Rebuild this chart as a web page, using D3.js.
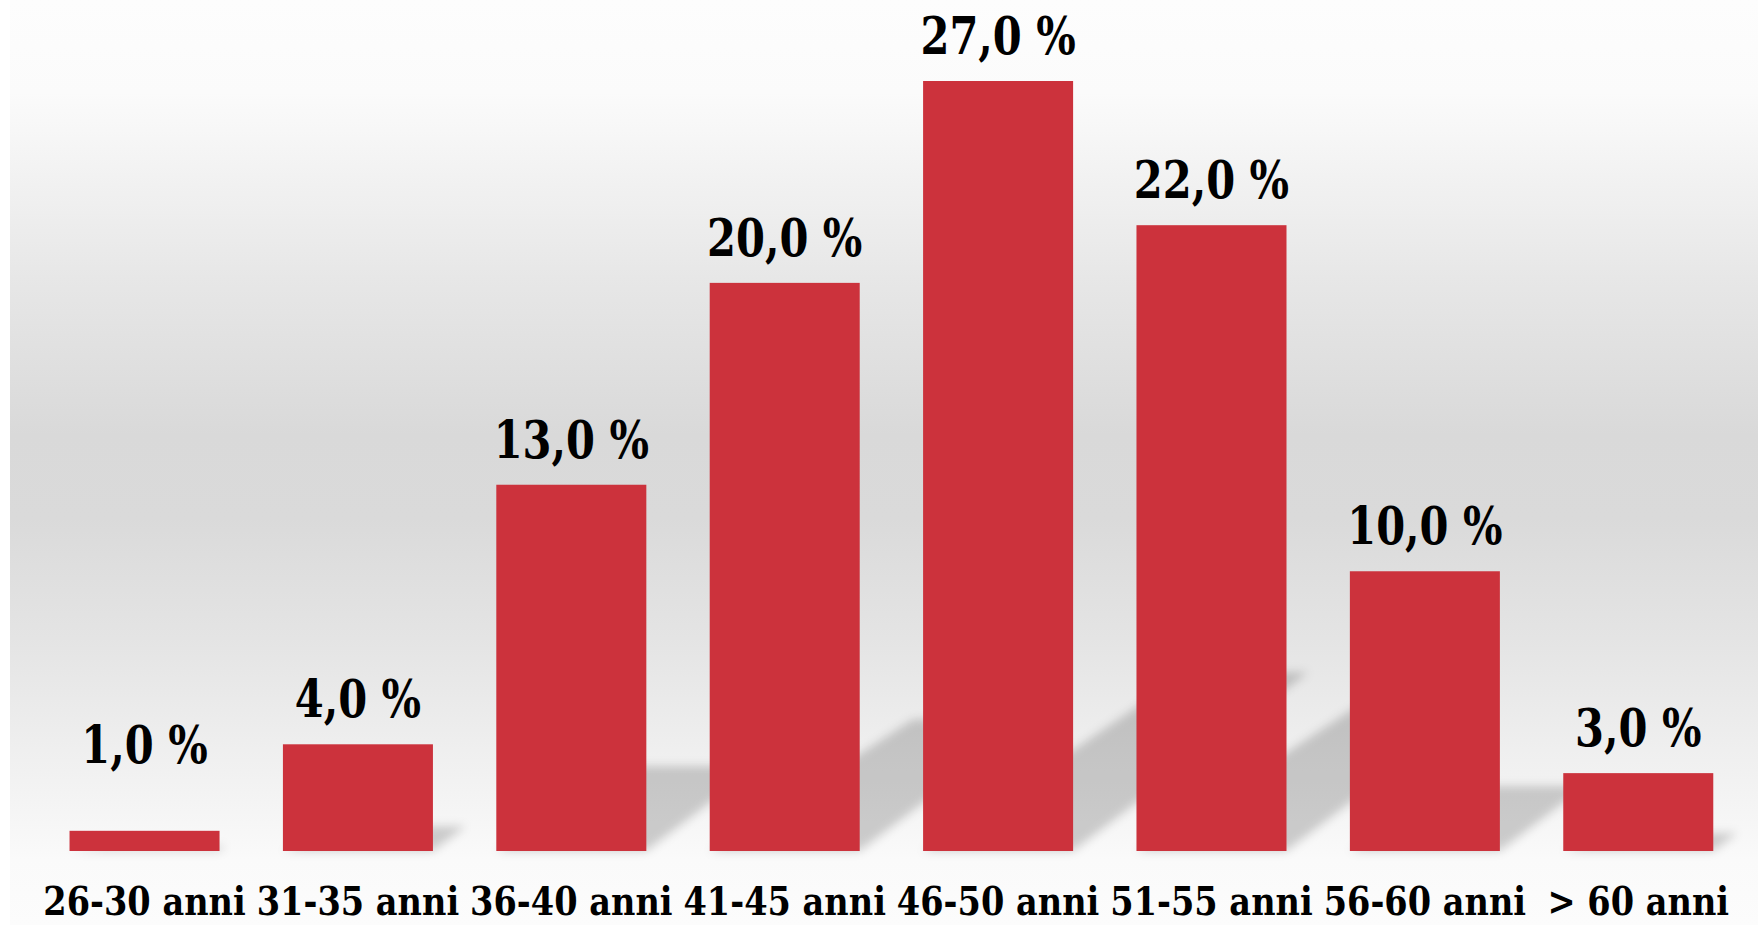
<!DOCTYPE html>
<html>
<head>
<meta charset="utf-8">
<script src="https://cdn.jsdelivr.net/npm/d3@7"></script>
<style>
  html, body { margin: 0; padding: 0; background: #ffffff; overflow: hidden; }
  svg { display: block; }
</style>
</head>
<body>
<svg id="chart" width="1758" height="925"></svg>
<script>
// ---- data ----
const categories = ["26-30 anni", "31-35 anni", "36-40 anni", "41-45 anni", "46-50 anni", "51-55 anni", "56-60 anni", "> 60 anni"];
const values = [1, 4, 13, 20, 27, 22, 10, 3];
const axisMin = 0.3;      // value at which bars start
const axisMax = 27;

// ---- setup ----
const W = 1758, H = 925;
const svg = d3.select("#chart");
const defs = svg.append("defs");

const bgGrad = defs.append("linearGradient")
  .attr("id", "bg").attr("x1", 0).attr("y1", 0).attr("x2", 0).attr("y2", 1);
[[0, "#fdfdfd"], [0.1, "#fbfbfb"], [0.3, "#e7e7e7"], [0.47, "#d9d9d9"], [0.56, "#dadada"],
 [0.69, "#e4e4e4"], [0.8, "#eeeeee"], [0.9, "#f7f7f7"], [0.93, "#fafafa"], [1, "#fcfcfc"]]
  .forEach(([o, c]) => bgGrad.append("stop").attr("offset", o).attr("stop-color", c));

defs.append("filter").attr("id", "blur")
  .attr("x", "-20%").attr("y", "-20%").attr("width", "140%").attr("height", "140%")
  .append("feGaussianBlur").attr("stdDeviation", 5);

svg.append("rect").attr("x", 0).attr("y", 0).attr("width", W).attr("height", H).attr("fill", "#ffffff");
svg.append("rect").attr("x", 10).attr("y", 0).attr("width", W - 10).attr("height", H).attr("fill", "url(#bg)");

const x = d3.scaleBand().domain(categories).range([37.8, 1745]).paddingInner(0.297).paddingOuter(0.1487);
const y = d3.scaleLinear().domain([axisMin, axisMax]).range([851, 81]);

const data = categories.map((c, i) => ({ cat: c, value: values[i] }));

// ---- shadows ----
const shadowRatio = 0.232, slope = 0.76, topNarrow = 0.8;
svg.append("g").attr("filter", "url(#blur)")
  .selectAll("path").data(data).join("path")
  .attr("fill", "#000").attr("fill-opacity", 0.18)
  .attr("d", d => {
    const x0 = x(d.cat), x1 = x0 + x.bandwidth(), b = y(axisMin);
    const h = b - y(d.value), t = h * shadowRatio, dx = t / slope;
    const tw = x.bandwidth() * topNarrow;
    return `M${x0},${b} L${x1},${b} L${x1 + dx},${b - t} L${x1 + dx - tw},${b - t} Z`;
  });

// ---- bars ----
svg.append("g").selectAll("rect").data(data).join("rect")
  .attr("x", d => x(d.cat))
  .attr("y", d => y(d.value))
  .attr("width", x.bandwidth())
  .attr("height", d => y(axisMin) - y(d.value))
  .attr("fill", "#cc323c");

// ---- value labels ----
const it = d3.formatLocale({ decimal: ",", thousands: ".", grouping: [3], currency: ["", "€"] });
const fmt = v => it.format(".1f")(v) + " %";
const labelFloor = 2.4;
svg.append("g").selectAll("text").data(data).join("text")
  .attr("transform", d => {
    const cx = x(d.cat) + x.bandwidth() / 2;
    const ly = Math.min(y(d.value), y(labelFloor)) - 27;
    return `translate(${cx},${ly}) scale(0.8,1)`;
  })
  .attr("text-anchor", "middle")
  .attr("font-family", "'DejaVu Serif', serif")
  .attr("font-weight", "bold")
  .attr("font-size", 52)
  .attr("fill", "#000")
  .text(d => fmt(d.value));

// ---- category axis ----
const axis = svg.append("g").attr("transform", `translate(0,${y(axisMin)})`)
  .call(d3.axisBottom(x).tickSize(0).tickPadding(0));
axis.select(".domain").remove();
axis.selectAll("text")
  .attr("y", 64).attr("dy", 0)
  .attr("transform", "scale(0.84,1)")
  .attr("font-family", "'DejaVu Serif', serif")
  .attr("font-weight", "bold")
  .attr("font-size", 40)
  .attr("fill", "#000");
</script>
</body>
</html>
